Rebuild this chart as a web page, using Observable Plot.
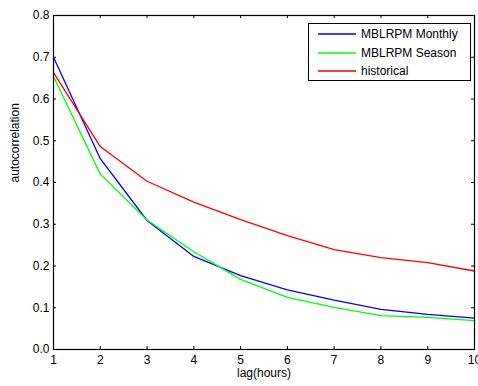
<!DOCTYPE html>
<html>
<head>
<meta charset="utf-8">
<script src="https://cdn.jsdelivr.net/npm/d3@7"></script>
<script src="https://cdn.jsdelivr.net/npm/@observablehq/plot@0.6"></script>
<style>
  html, body { margin: 0; padding: 0; background: #fff; }
  #wrap { position: relative; width: 478px; height: 386px; font-family: "Liberation Sans", Arial, sans-serif; }
  #legend { position: absolute; left: 308px; top: 23px; width: 161px; height: 56px; border: 1px solid #000; background: #fff; font-size: 12px; }
  .row { position: absolute; left: 0; height: 14px; width: 100%; }
  .sw { position: absolute; left: 9px; top: 5px; width: 38px; height: 4px; overflow: visible; }
  .lb { position: absolute; left: 52px; top: 0; line-height: 14px; white-space: nowrap; color: #000; }
</style>
</head>
<body>
<div id="wrap"></div>
<script>
const lags = [1, 2, 3, 4, 5, 6, 7, 8, 9, 10];
const monthly = [0.700, 0.457, 0.309, 0.223, 0.177, 0.143, 0.118, 0.096, 0.084, 0.075];
const season = [0.654, 0.420, 0.310, 0.234, 0.168, 0.125, 0.101, 0.081, 0.077, 0.069];
const historical = [0.663, 0.486, 0.403, 0.353, 0.311, 0.273, 0.239, 0.220, 0.208, 0.188];
const seriesNames = ["MBLRPM Monthly", "MBLRPM Season", "historical"];
const seriesColors = ["#0000ff", "#00ff00", "#ff0000"];
const xTicks = [1, 2, 3, 4, 5, 6, 7, 8, 9, 10];
const yTicks = [0, 0.1, 0.2, 0.3, 0.4, 0.5, 0.6, 0.7, 0.8];
const xLabel = "lag(hours)";
const yLabel = "autocorrelation";

const seriesValues = [monthly, season, historical];
const rows = [];
seriesNames.forEach((name, i) => {
  lags.forEach((lag, j) => rows.push({series: name, lag, value: seriesValues[i][j]}));
});

const W = 478, H = 386;
const mL = 53, mR = 4, mT = 15, mB = 37;
const xPerPx = (10 - 1) / (W - mL - mR);
const yPerPx = 0.8 / (H - mT - mB);
const tk = 3;

const chart = Plot.plot({
  width: W,
  height: H,
  marginLeft: mL,
  marginRight: mR,
  marginTop: mT,
  marginBottom: mB,
  style: {fontFamily: "'Liberation Sans', Arial, sans-serif", fontSize: "12px", color: "#000", background: "#fff"},
  x: {domain: [1, 10]},
  y: {domain: [0, 0.8]},
  color: {domain: seriesNames, range: seriesColors},
  marks: [
    Plot.line(rows, {x: "lag", y: "value", z: "series", stroke: "series", strokeWidth: 1.3}),
    Plot.ruleX(xTicks, {x: d => d, y1: 0, y2: tk * yPerPx, stroke: "#000", strokeWidth: 1}),
    Plot.ruleX(xTicks, {x: d => d, y1: 0.8, y2: 0.8 - tk * yPerPx, stroke: "#000", strokeWidth: 1}),
    Plot.ruleY(yTicks, {y: d => d, x1: 1, x2: 1 + tk * xPerPx, stroke: "#000", strokeWidth: 1}),
    Plot.ruleY(yTicks, {y: d => d, x1: 10, x2: 10 - tk * xPerPx, stroke: "#000", strokeWidth: 1}),
    Plot.frame({stroke: "#000", strokeWidth: 1.2}),
    Plot.axisX({ticks: xTicks, tickSize: 0, tickPadding: 6, label: null}),
    Plot.axisY({ticks: yTicks, tickSize: 0, tickPadding: 4, label: null}),
    Plot.text([xLabel], {text: d => d, frameAnchor: "bottom", lineAnchor: "middle", dy: 24, fontSize: 12}),
    Plot.text([yLabel], {text: d => d, frameAnchor: "left", lineAnchor: "middle", dx: -38, rotate: -90, fontSize: 12})
  ]
});

const wrap = document.getElementById("wrap");
wrap.appendChild(chart);

const svgNS = "http://www.w3.org/2000/svg";
const legend = document.createElement("div");
legend.id = "legend";
seriesNames.forEach((name, i) => {
  const row = document.createElement("div");
  row.className = "row";
  row.style.top = (3 + i * 18.5) + "px";
  const sw = document.createElementNS(svgNS, "svg");
  sw.setAttribute("class", "sw");
  sw.setAttribute("width", "38");
  sw.setAttribute("height", "4");
  const ln = document.createElementNS(svgNS, "line");
  ln.setAttribute("x1", "0");
  ln.setAttribute("x2", "38");
  ln.setAttribute("y1", "2");
  ln.setAttribute("y2", "2");
  ln.setAttribute("stroke", seriesColors[i]);
  ln.setAttribute("stroke-width", "1.3");
  sw.appendChild(ln);
  const lb = document.createElement("div");
  lb.className = "lb";
  lb.textContent = name;
  row.appendChild(sw);
  row.appendChild(lb);
  legend.appendChild(row);
});
wrap.appendChild(legend);
</script>
</body>
</html>
